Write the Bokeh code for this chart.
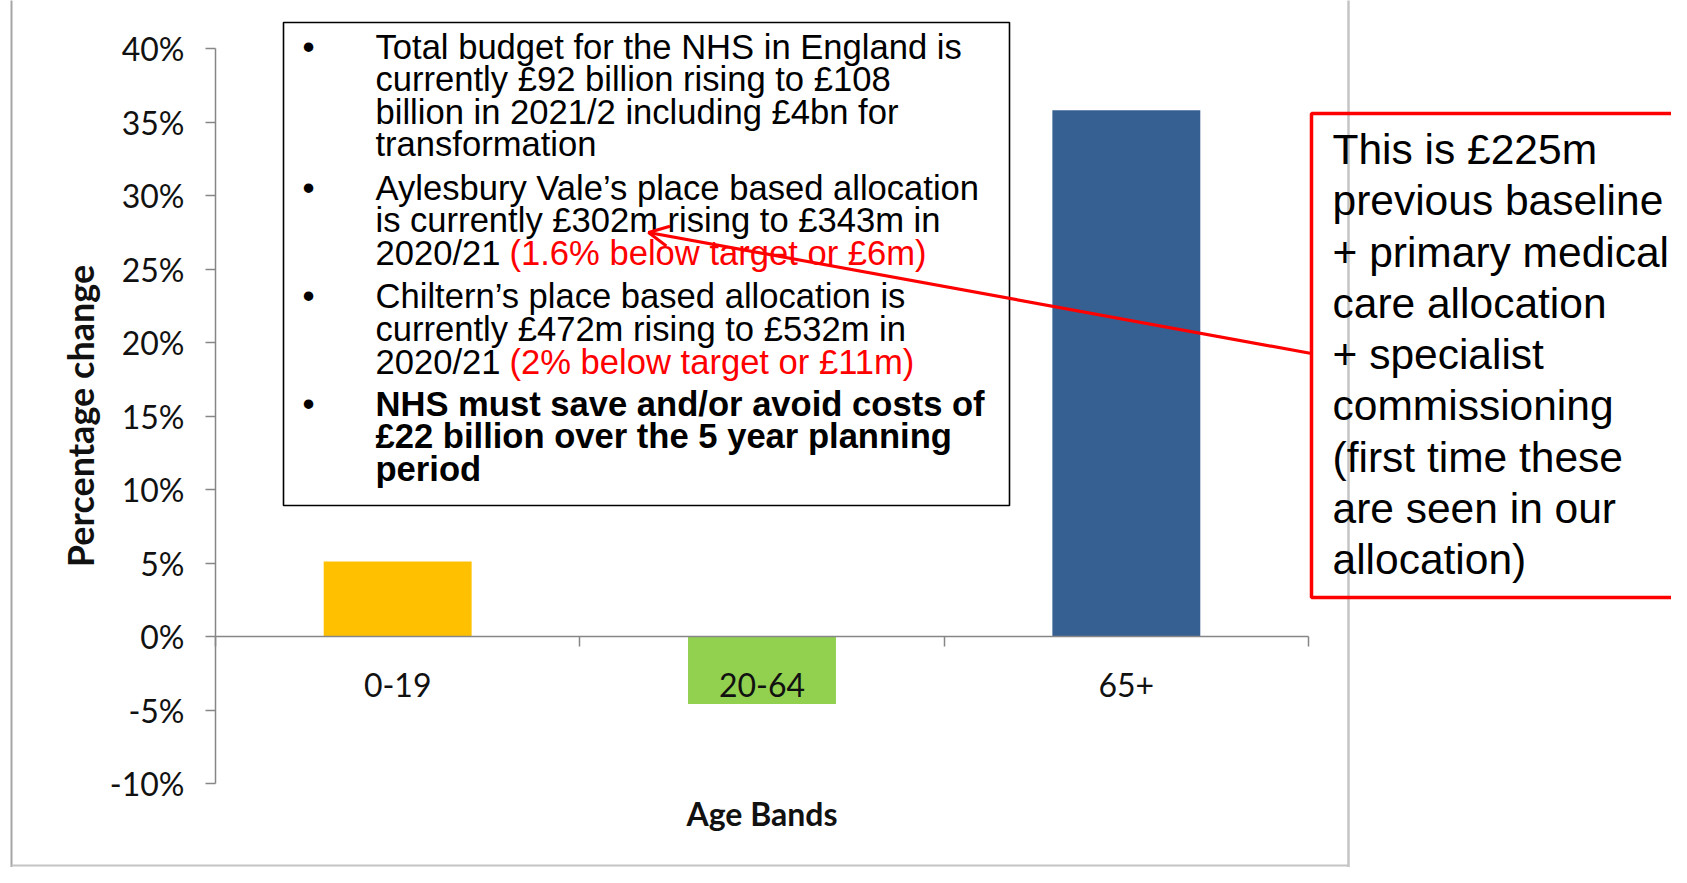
from bokeh.plotting import figure
from bokeh.models import Range1d, LinearAxis, FixedTicker, PrintfTickFormatter, Arrow, OpenHead
from bokeh.core.properties import value
from bokeh.embed import file_html
from bokeh.resources import INLINE

# ---------------- data ----------------
categories = ["0-19", "20-64", "65+"]
pct_change = [5.1, -4.6, 35.8]
bar_colors = ["#FFC000", "#92D050", "#376092"]
y_ticks = [-10, -5, 0, 5, 10, 15, 20, 25, 30, 35, 40]

bullet1 = ["Total budget for the NHS in England is",
           "currently \u00a392 billion rising to \u00a3108",
           "billion in 2021/2 including \u00a34bn for",
           "transformation"]
bullet2 = ["Aylesbury Vale\u2019s place based allocation",
           "is currently \u00a3302m rising to \u00a3343m in",
           "2020/21"]
bullet2_red = "(1.6% below target or \u00a36m)"
bullet3 = ["Chiltern\u2019s place based allocation is",
           "currently \u00a3472m rising to \u00a3532m in",
           "2020/21"]
bullet3_red = "(2% below target or \u00a311m)"
bullet4 = ["NHS must save and/or avoid costs of",
           "\u00a322 billion over the 5 year planning",
           "period"]
callout = ["This is \u00a3225m", "previous baseline", "+ primary medical",
           "care allocation", "+ specialist", "commissioning",
           "(first time these", "are seen in our", "allocation)"]

# ---------------- geometry (picture pixels -> data) ----------------
W, H = 1671, 867
AX0 = 215.0            # x pixel of category index 0
XS = (1308.0 - 215.0) / 3.0
PY40 = 48.0            # y pixel of 40%
YS = 735.0 / 50.0      # px per percent


def X(px):
    return (px - AX0) / XS


def Y(py):
    return 40.0 - (py - PY40) / YS


p = figure(width=W, height=H, output_backend="svg", toolbar_location=None,
           x_axis_type=None, y_axis_type=None,
           x_range=Range1d(X(0), X(W)), y_range=Range1d(Y(H), Y(0)),
           min_border=0, min_border_left=0, min_border_right=0,
           min_border_top=0, min_border_bottom=0)
p.outline_line_color = None
p.background_fill_color = "white"
p.border_fill_color = "white"

# chart-area frame lines
p.line(x=[X(11), X(11)], y=[Y(-10), Y(900)], line_color="#A6A6A6", line_width=2)
p.line(x=[X(1348), X(1348)], y=[Y(-10), Y(900)], line_color="#C4C4C4", line_width=2.5)
p.line(x=[X(11), X(1348)], y=[Y(865), Y(865)], line_color="#C4C4C4", line_width=2)

# bars
xs = [i + 0.5 for i in range(len(categories))]
p.vbar(x=xs, top=pct_change, bottom=0, width=0.406, fill_color=bar_colors,
       line_color=None)

# axes
yaxis = LinearAxis(fixed_location=0, bounds=(-10, 40),
                   ticker=FixedTicker(ticks=y_ticks),
                   formatter=PrintfTickFormatter(format="%d%%"),
                   axis_label="Percentage change")
yaxis.axis_line_color = "#868686"
yaxis.axis_line_width = 1.5
yaxis.major_tick_line_color = "#868686"
yaxis.major_tick_line_width = 1.5
yaxis.major_tick_out = 10
yaxis.major_tick_in = 0
yaxis.minor_tick_line_color = None
yaxis.major_label_text_font = "Lato"
yaxis.major_label_text_font_size = "32px"
yaxis.major_label_text_color = "#111111"
yaxis.major_label_standoff = 21
yaxis.axis_label_text_font = "Lato"
yaxis.axis_label_text_font_style = "bold"
yaxis.axis_label_text_font_size = "36px"
yaxis.axis_label_text_color = "#111111"
yaxis.axis_label_standoff = 5
p.add_layout(yaxis, "left")

xaxis = LinearAxis(fixed_location=0, bounds=(0, 3),
                   ticker=FixedTicker(ticks=xs, minor_ticks=[0, 1, 2, 3]),
                   axis_label="Age Bands")
xaxis.major_label_overrides = {x: c for x, c in zip(xs, categories)}
xaxis.axis_line_color = "#868686"
xaxis.axis_line_width = 1.5
xaxis.major_tick_line_color = None
xaxis.major_tick_out = 0
xaxis.major_tick_in = 0
xaxis.minor_tick_line_color = "#868686"
xaxis.minor_tick_line_width = 1.5
xaxis.minor_tick_out = 10
xaxis.minor_tick_in = 0
xaxis.major_label_text_font = "Lato"
xaxis.major_label_text_font_size = "32px"
xaxis.major_label_text_color = "#111111"
xaxis.major_label_standoff = 26
xaxis.axis_label_text_font = "Lato"
xaxis.axis_label_text_font_style = "bold"
xaxis.axis_label_text_font_size = "32px"
xaxis.axis_label_text_color = "#111111"
xaxis.axis_label_standoff = 94
p.add_layout(xaxis, "below")

# text box
p.quad(left=[X(283)], right=[X(1009)], top=[Y(22)], bottom=[Y(505)],
       fill_color="white", line_color="black", line_width=1.6)

FONT = value("Liberation Sans")
TX = 375
SH1 = 11   # baseline correction for the 34.6px text
b1_y = [57, 89.5, 122, 154.5]
b2_y = [198, 230.5, 263]
b3_y = [306, 339, 372]
b4_y = [414, 446.5, 479]

normal_lines = bullet1 + bullet2 + bullet3
normal_y = b1_y + b2_y + b3_y
p.text(x=[X(TX)] * len(normal_lines), y=[Y(v - SH1) for v in normal_y], text=normal_lines,
       text_font=FONT, text_font_size="34.6px", text_color="black",
       text_baseline="alphabetic", text_align="left")
p.text(x=[X(TX)] * len(bullet4), y=[Y(v - SH1) for v in b4_y], text=bullet4,
       text_font=FONT, text_font_size="34.6px", text_font_style="bold",
       text_color="black", text_baseline="alphabetic", text_align="left")
p.text(x=[X(509), X(509)], y=[Y(b2_y[2] - SH1), Y(b3_y[2] - SH1)],
       text=[bullet2_red, bullet3_red],
       text_font=FONT, text_font_size="34.6px", text_color="#FF0000",
       text_baseline="alphabetic", text_align="left")
bullet_y = [b1_y[0], b2_y[0], b3_y[0], b4_y[0]]
p.text(x=[X(302)] * 4, y=[Y(v - SH1) for v in bullet_y], text=["\u2022"] * 4,
       text_font=FONT, text_font_size="34.6px", text_color="black",
       text_baseline="alphabetic", text_align="left")

# call-out box
p.quad(left=[X(1311)], right=[X(1730)], top=[Y(113)], bottom=[Y(597)],
       fill_color=None, line_color="#FF0000", line_width=3.5)
SH2 = 14
call_y = [163 + 51.25 * i for i in range(len(callout))]
p.text(x=[X(1332)] * len(callout), y=[Y(v - SH2) for v in call_y], text=callout,
       text_font=FONT, text_font_size="42.5px", text_color="black",
       text_baseline="alphabetic", text_align="left")

# arrow
p.add_layout(Arrow(end=OpenHead(size=20, line_color="#FF0000", line_width=3),
                   x_start=X(1311), y_start=Y(353), x_end=X(648), y_end=Y(232),
                   line_color="#FF0000", line_width=3.2))

open("out.html", "w").write(file_html(p, INLINE))
